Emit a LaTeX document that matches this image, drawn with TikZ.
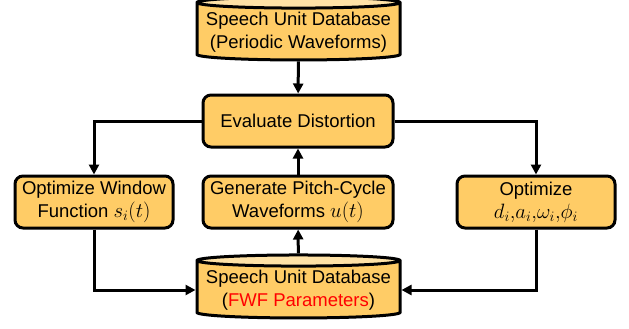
\documentclass[tikz,border=0pt]{standalone}
\usepackage{fontspec}
\setmainfont{Liberation Sans}
\usetikzlibrary{shapes.geometric,arrows.meta}
\definecolor{boxfill}{RGB}{255,204,102}
\definecolor{capfill}{RGB}{255,226,166}
\newcommand{\bigmath}[1]{{\fontsize{21}{21}\selectfont$#1$}}
\begin{document}
\begin{tikzpicture}[x=1pt,y=-1pt,
  every node/.style={font=\fontsize{18.5}{23}\selectfont, align=center, inner sep=0pt},
  procbox/.style={draw=black, line width=3pt, fill=boxfill, rounded corners=8pt},
  database/.style={draw=black, line width=3pt, cylinder, shape border rotate=90,
    aspect=0.06, cylinder uses custom fill, cylinder body fill=boxfill,
    cylinder end fill=capfill, minimum width=203pt, minimum height=63pt},
  flow/.style={line width=3pt, -{Triangle[length=10pt,width=10pt]}}]
  \useasboundingbox (0,0) rectangle (629,329);
  % databases
  \node[database] (dbtop) at (298.5,32) {Speech Unit Database\\(Periodic Waveforms)};
  \node[database] (dbfwf) at (298.5,290) {Speech Unit Database\\(\textcolor{red}{FWF Parameters})};
  % processing steps
  \node[procbox, minimum width=190pt, minimum height=52pt] (evald) at (298,121) {Evaluate Distortion};
  \node[procbox, minimum width=158pt, minimum height=52pt] (optwin) at (94,202) {Optimize Window\\Function \bigmath{s_i\bigl(t\bigr)}};
  \node[procbox, minimum width=190pt, minimum height=52pt] (genpc) at (298,202) {Generate Pitch-Cycle\\Waveforms \bigmath{u\bigl(t\bigr)}};
  \node[procbox, minimum width=158pt, minimum height=52pt] (optpar) at (536,202) {Optimize\\\bigmath{d_i{,}a_i{,}\omega_i{,}\phi_i}};
  % connections
  \draw[flow] (dbtop) -- (evald);
  \draw[flow] (evald.west) -| (optwin.north);
  \draw[flow] (evald.east) -| (optpar.north);
  \draw[flow] (genpc) -- (evald);
  \draw[flow] (dbfwf) -- (genpc);
  \draw[flow] (optwin.south) |- (dbfwf.west);
  \draw[flow] (optpar.south) |- (dbfwf.east);
\end{tikzpicture}
\end{document}
